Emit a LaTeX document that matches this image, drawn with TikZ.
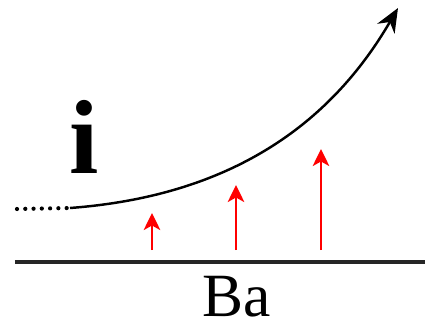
\documentclass[tikz,border=0pt]{standalone}
\usepackage{fontspec}
\setmainfont{Liberation Serif}
\usetikzlibrary{arrows.meta}
\tikzset{
  osnova/.style={line width=2.6pt,black!85},
  putanja/.style={-{Stealth[length=4.8mm,width=4mm]},line width=1.4pt,black},
  tacke/.style={line width=2.4pt,dash pattern=on 0.01pt off 4.7pt,line cap=round,black},
  sila/.style={-{Stealth[length=3.4mm,width=3.3mm,inset=0.9mm]},line width=1.5pt,red},
  slovo/.style={inner sep=0pt,font=\fontsize{35}{35}\selectfont},
}
\begin{document}
\begin{tikzpicture}[x=0.02cm,y=-0.02cm]
  \useasboundingbox (0,0) rectangle (427,329);

  % podloga i natpis
  \coordinate (osL) at (15,262);
  \coordinate (osD) at (425,262);
  \draw[osnova] (osL) -- (osD);
  \node[slovo,anchor=base] (ba) at (237,316) {Ba};

  % slovo i
  \node[inner sep=0pt,anchor=base,font=\fontsize{60}{60}\selectfont\bfseries] (ii) at (84,173) {i};

  % putanja
  \coordinate (p0) at (17,209);
  \coordinate (p1) at (70,208);
  \coordinate (p2) at (398,8);
  \draw[tacke] (p0) -- (p1);
  \draw[putanja] (p1) .. controls (230,196) and (330,125) .. (p2);

  % crvene strelice
  \foreach \x/\v/\ime in {152/213/a, 236/185/b, 321/149/c}
  {
    \coordinate (dno\ime) at (\x,250);
    \coordinate (vrh\ime) at (\x,\v);
    \draw[sila] (dno\ime) -- (vrh\ime);
  }
\end{tikzpicture}
\end{document}
